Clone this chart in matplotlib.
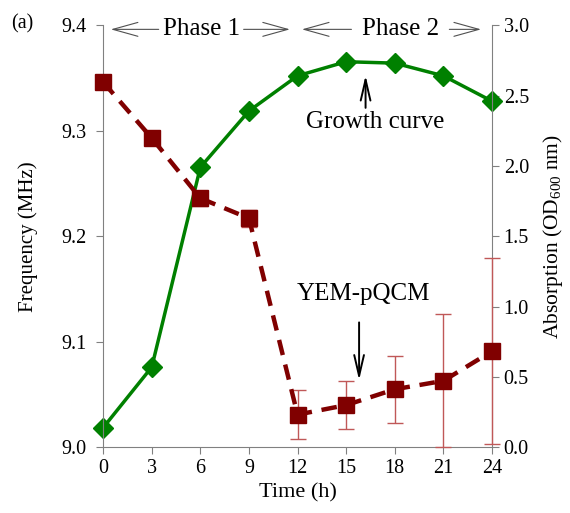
import numpy as np
import matplotlib
matplotlib.use('Agg')
import matplotlib.pyplot as plt

plt.rcParams['font.family'] = ['Liberation Serif', 'DejaVu Serif']
plt.rcParams['mathtext.fontset'] = 'custom'
plt.rcParams['mathtext.rm'] = 'Liberation Serif'

# data
time_h = [0, 3, 6, 9, 12, 15, 18, 21, 24]
freq_mhz = [9.346, 9.293, 9.236, 9.217, 9.031, 9.040, 9.055, 9.063, 9.091]
freq_err = [0.006, 0.003, 0.007, 0.008, 0.023, 0.023, 0.032, 0.063, 0.088]
od600 = [0.14, 0.57, 1.99, 2.39, 2.64, 2.74, 2.73, 2.64, 2.46]

fig = plt.figure(figsize=(5.7, 5.13), dpi=100)
ax = fig.add_axes([0.181, 0.128, 0.682, 0.823])
ax2 = ax.twinx()

gray = '#808080'
dark_red = '#800000'
green = '#008000'

# red (frequency) drawn above the green curve
ax.set_zorder(ax2.get_zorder() + 1)
ax.patch.set_visible(False)

ax.errorbar(time_h, freq_mhz, yerr=freq_err, color=dark_red, ecolor='#c05858',
            elinewidth=1, capsize=6, capthick=1, linestyle=(0, (3.5, 2.2)), lw=3.2,
            marker='s', markersize=11, clip_on=False, zorder=3)
ax2.plot(time_h, od600, color=green, lw=2.5, marker='D', markersize=10, clip_on=False)

ax.set_xlim(0, 24)
ax.set_ylim(9.0, 9.4)
ax2.set_ylim(0, 3.0)
ax.set_xticks(time_h)
ax.set_yticks([9.0, 9.1, 9.2, 9.3, 9.4])
ax.set_yticklabels(['9.0', '9.1', '9.2', '9.3', '9.4'])
ax2.set_yticks([0, 0.5, 1.0, 1.5, 2.0, 2.5, 3.0])
ax2.set_yticklabels(['0.0', '0.5', '1.0', '1.5', '2.0', '2.5', '3.0'])

for a in (ax, ax2):
    a.spines['top'].set_visible(False)
    for s in ('left', 'right', 'bottom'):
        a.spines[s].set_color(gray)
    a.tick_params(colors=gray, labelcolor='black', labelsize=14.5, length=5, direction='out')
ax.tick_params(axis='y', pad=7)
ax.spines['right'].set_visible(False)
ax2.spines['left'].set_visible(False)
ax2.spines['bottom'].set_visible(False)

ax.set_xlabel('Time (h)', fontsize=16, labelpad=4)
ax.set_ylabel('Frequency (MHz)', fontsize=15, labelpad=17)
ax2.set_ylabel('Absorption (OD$_{600}$ nm)', fontsize=15.5, labelpad=9)

fig.text(0.02, 0.953, '(a)', fontsize=14.5, va='center')

# phase markers along the top
arrow_kw = dict(arrowstyle='->, head_length=1.8, head_width=0.5', color='#505050', lw=0.8)
ytop = 9.396
for x0, x1, x2, x3, label in [(0.3, 3.6, 8.5, 11.7, 'Phase 1'), (12.1, 15.5, 21.2, 23.5, 'Phase 2')]:
    ax.text((x1 + x2) / 2, ytop, label, fontsize=18, ha='center', va='center')
    ax.annotate('', xy=(x0, ytop), xytext=(x1, ytop), arrowprops=arrow_kw, annotation_clip=False)
    ax.annotate('', xy=(x3, ytop), xytext=(x2, ytop), arrowprops=arrow_kw, annotation_clip=False)

head_kw = dict(arrowstyle='->, head_length=1.5, head_width=0.35', color='black', lw=1.4)
ax.text(16.8, 9.308, 'Growth curve', fontsize=18, ha='center', va='center')
ax.annotate('', xy=(16.2, 9.355), xytext=(16.2, 9.319), arrowprops=head_kw)
ax.text(16.1, 9.145, 'YEM-pQCM', fontsize=18, ha='center', va='center')
ax.annotate('', xy=(15.8, 9.061), xytext=(15.8, 9.121), arrowprops=head_kw)

fig.savefig('out.png', dpi=100)
